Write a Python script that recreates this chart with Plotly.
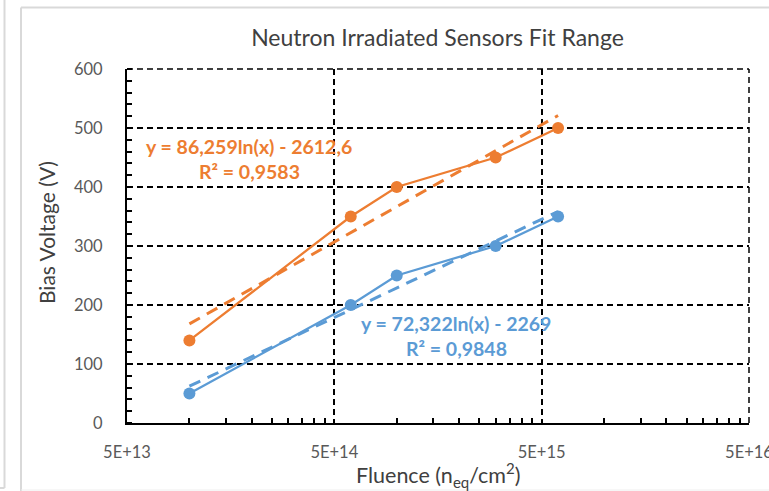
import numpy as np
import plotly.graph_objects as go

# ---- data ----
fluence = [1e14, 6e14, 1e15, 3e15, 6e15]
orange_v = [140, 350, 400, 450, 500]
blue_v = [50, 200, 250, 300, 350]
orange_fit = (86.259, -2612.6)
blue_fit = (72.322, -2269.0)
xtick_vals = [5e13, 5e14, 5e15, 5e16]
xtick_text = ["5E+13", "5E+14", "5E+15", "5E+16"]
ytick_vals = [0, 100, 200, 300, 400, 500, 600]

ORANGE = "#ED7D31"
BLUE = "#5B9BD5"
GREY = "#595959"
DARK = "#404040"
FONT = "Lato"

W, H = 769, 491
L, R, T, B = 127, 20, 69, 68
PW, PH = W - L - R, H - T - B


def px(x):
    return (x - L) / PW


def py(y):
    return (H - B - y) / PH


xfit = np.array([fluence[0], fluence[-1]])

fig = go.Figure()
for vals, fit, col in [(orange_v, orange_fit, ORANGE), (blue_v, blue_fit, BLUE)]:
    a, b = fit
    fig.add_trace(go.Scatter(x=xfit, y=a * np.log(xfit) + b, mode="lines",
                             line=dict(color=col, width=3, dash="12px,8px"),
                             showlegend=False, hoverinfo="skip"))
    fig.add_trace(go.Scatter(x=fluence, y=vals, mode="lines+markers",
                             line=dict(color=col, width=2.25),
                             marker=dict(color=col, size=12),
                             showlegend=False))

minor_x = [m * k for m in [5e13, 5e14, 5e15] for k in range(2, 10)]

fig.update_xaxes(type="log", range=[np.log10(5e13), np.log10(5e16)], automargin=False,
                 tickmode="array", tickvals=xtick_vals, ticktext=xtick_text,
                 ticklabeloverflow="allow",
                 showgrid=True, gridcolor="black", gridwidth=1.5, griddash="6px,4px",
                 showline=True, linecolor="black", linewidth=2,
                 ticks="", ticklabelstandoff=13,
                 tickfont=dict(family=FONT, size=16.5, color=GREY),
                 minor=dict(tickmode="array", tickvals=minor_x, ticks="inside",
                            ticklen=5, tickcolor="black", tickwidth=1.5, showgrid=False),
                 zeroline=False)
fig.update_yaxes(range=[0, 600], tickmode="array", tickvals=ytick_vals, automargin=False,
                 ticklabeloverflow="allow",
                 showgrid=True, gridcolor="black", gridwidth=1.5, griddash="6px,4px",
                 showline=True, linecolor="black", linewidth=2,
                 ticks="", ticklabelstandoff=19,
                 tickfont=dict(family=FONT, size=16.5, color=GREY),
                 minor=dict(dtick=20, ticks="inside", ticklen=5, tickcolor="black",
                            tickwidth=1.5, showgrid=False),
                 zeroline=False)

# dashed top and right borders
for x0, y0, x1, y1 in [(0, 1, 1, 1), (1, 0, 1, 1)]:
    fig.add_shape(type="line", xref="paper", yref="paper", x0=x0, y0=y0, x1=x1, y1=y1,
                  line=dict(color="black", width=1.5, dash="6px,4px"))

# outer frames
frame = dict(color="#D9D9D9", width=2)
fig.add_shape(type="line", xref="paper", yref="paper", x0=px(4.5), y0=py(-5), x1=px(4.5), y1=py(488), line=frame)
fig.add_shape(type="line", xref="paper", yref="paper", x0=px(-5), y0=py(488), x1=px(4.5), y1=py(488), line=frame)
fig.add_shape(type="line", xref="paper", yref="paper", x0=px(21), y0=py(7.5), x1=px(780), y1=py(7.5), line=frame)
fig.add_shape(type="line", xref="paper", yref="paper", x0=px(21), y0=py(7.5), x1=px(21), y1=py(500), line=frame)
fig.add_shape(type="line", xref="paper", yref="paper", x0=px(21), y0=py(490), x1=px(780), y1=py(490),
              line=dict(color="#EEEEEE", width=1))

# axis titles
fig.add_annotation(text="Bias Voltage (V)", xref="paper", yref="paper", x=px(47), y=py(233),
                   textangle=-90, showarrow=False, xanchor="center", yanchor="middle",
                   font=dict(family=FONT, size=21, color=DARK))
fig.add_annotation(text="Fluence (n<sub>eq</sub>/cm<sup>2</sup>)", xref="paper", yref="paper",
                   x=px(438), y=py(475), showarrow=False, xanchor="center", yanchor="middle",
                   font=dict(family=FONT, size=21.5, color=DARK))

# fit annotations
ann = [("y = 86,259ln(x) - 2612,6", 249, 146, ORANGE), ("R² = 0,9583", 249, 171, ORANGE),
       ("y = 72,322ln(x) - 2269", 456, 323, BLUE), ("R² = 0,9848", 456, 348, BLUE)]
for txt, x, y, col in ann:
    fig.add_annotation(text=f"<b>{txt}</b>", xref="paper", yref="paper", x=px(x), y=py(y),
                       showarrow=False, xanchor="center", yanchor="middle",
                       font=dict(family=FONT, size=19.5, color=col))

fig.update_layout(
    width=W, height=H, margin=dict(l=L, r=R, t=T, b=B),
    paper_bgcolor="white", plot_bgcolor="white",
    title=dict(text="Neutron Irradiated Sensors Fit Range", x=px(437.5), xref="paper",
               xanchor="center", y=1 - 38 / H, yanchor="middle",
               font=dict(family=FONT, size=23, color=DARK)),
)

fig.write_html("out.html")
